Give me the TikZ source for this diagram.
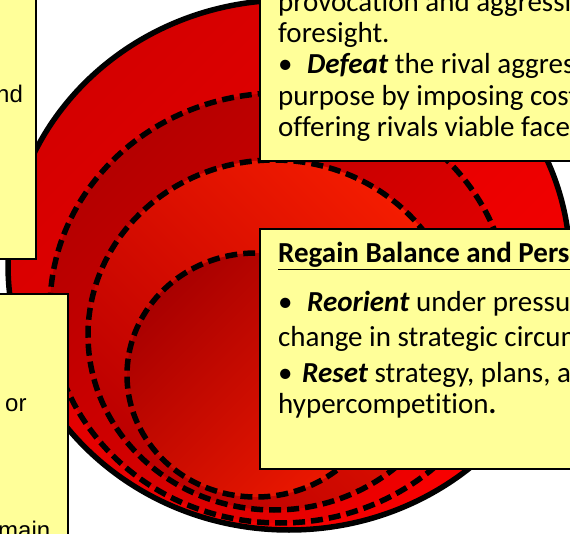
\documentclass[tikz,border=0pt]{standalone}
\usepackage{fontspec}
\setmainfont{Carlito}[Ligatures=CommonOff]
\newfontfamily\arialfont{Liberation Sans}
\usetikzlibrary{positioning}

\definecolor{cardyellow}{HTML}{FFFF99}
\definecolor{outerdark}{HTML}{D40000}
\definecolor{outerlight}{HTML}{F80000}
\definecolor{seconddark}{HTML}{B40000}
\definecolor{secondlight}{HTML}{F00000}
\definecolor{thirddark}{HTML}{BC0000}
\definecolor{thirdlight}{HTML}{F41C00}
\definecolor{innerdark}{HTML}{A80000}
\definecolor{innerlight}{HTML}{EC1800}

\begin{document}
\begin{tikzpicture}[x=1pt, y=-1pt,
    ring/.style={line width=5.5pt, dash pattern=on 12pt off 6pt},
    card/.style={draw, rectangle, line width=2pt, fill=cardyellow, inner sep=0pt, anchor=north west},
    cardtext/.style={anchor=base west, inner sep=0pt, font=\fontsize{29}{31}\selectfont},
    sidetext/.style={anchor=base west, inner sep=0pt, font=\arialfont\fontsize{24}{28}\selectfont}
]
\useasboundingbox (0,0) rectangle (570,534);
\clip (0,0) rectangle (570,534);

% nested rings
\shadedraw[line width=5.5pt, top color=outerdark, bottom color=outerlight, shading angle=45]
    (289,265) ellipse [x radius=281pt, y radius=265pt];
\shadedraw[ring, top color=seconddark, bottom color=secondlight, shading angle=45]
    (280,308) ellipse [x radius=230pt, y radius=215pt];
\shadedraw[ring, top color=thirdlight, bottom color=thirddark, shading angle=-45]
    (274,335) ellipse [x radius=186pt, y radius=175pt];
\shadedraw[ring, top color=innerdark, bottom color=innerlight, shading angle=45]
    (256,375) ellipse [x radius=129pt, y radius=122pt];

% side cards
\node[card, minimum width=55pt, minimum height=278pt] (leftcard) at (-20,-20) {};
\node[sidetext] (leftnd) at (-4,103) {nd};
\node[card, minimum width=87pt, minimum height=280pt] (lowcard) at (-20,293) {};
\node[sidetext] (lowor) at (5,411) {or};
\node[sidetext] (lowmain) at (-2,538) {main};

% upper right card
\node[card, minimum width=341pt, minimum height=180pt] (topcard) at (259,-20) {};
\node[cardtext] (topa) at (278,12) {provocation and aggressi};
\node[cardtext] (topb) at (278,43) {foresight.};
\node[cardtext] (topc) at (278,74) {\makebox[29pt][l]{•}\textbf{\textit{Defeat}} the rival aggres};
\node[cardtext] (topd) at (278,106) {purpose by imposing cost};
\node[cardtext] (tope) at (278,137) {offering rivals viable face-};

% lower right card
\node[card, minimum width=341pt, minimum height=240pt] (midcard) at (259,228) {};
\node[cardtext] (midtitle) at (278,263) {\underline{\textbf{Regain Balance and Persi}}};
\node[cardtext] (mida) at (278,312) {\makebox[29pt][l]{•}\textbf{\textit{Reorient}} under pressu};
\node[cardtext] (midb) at (278,347) {change in strategic circum};
\node[cardtext] (midc) at (278,382) {\makebox[24pt][l]{•}\textbf{\textit{Reset}} strategy, plans, a};
\node[cardtext] (midd) at (278,413) {hypercompetition\textbf{.}};

\end{tikzpicture}
\end{document}
